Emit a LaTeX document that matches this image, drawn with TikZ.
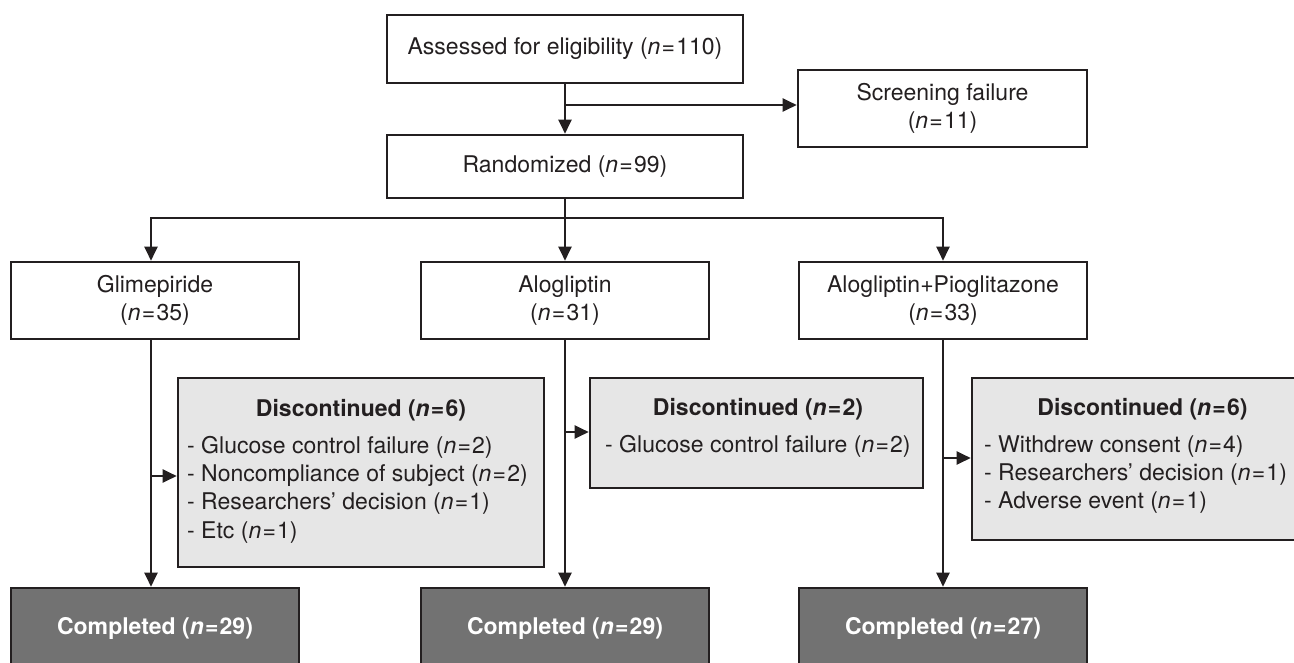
\documentclass[tikz,border=0pt]{standalone}
\usepackage{fontspec}
\setmainfont{TeX Gyre Heros}
\usetikzlibrary{arrows.meta}
\definecolor{ink}{HTML}{231F20}
\definecolor{discfill}{HTML}{E6E6E6}
\definecolor{compfill}{HTML}{727272}
\newcommand\nval[1]{(\textit{n}\kern1.2pt=\kern1.2pt#1)}
\begin{document}
\begin{tikzpicture}[x=1pt,y=-1pt,
  font=\fontsize{23}{28.3}\selectfont, text=ink,
  box/.style={draw=ink, line width=2.6pt, inner sep=0pt, align=center, fill=white},
  discbox/.style={box, fill=discfill},
  compbox/.style={box, fill=compfill, text=white, font=\fontsize{23}{28.3}\selectfont\bfseries},
  conn/.style={draw=ink, line width=2.2pt},
  arr/.style={conn, -{Triangle[length=14pt,width=13pt]}},
  ttl/.style={anchor=base, inner sep=0pt, font=\fontsize{23}{28.3}\selectfont\bfseries},
  item/.style={anchor=base west, inner sep=0pt}
]
\useasboundingbox (0,0) rectangle (1294,662);

% top
\node[box, minimum width=356pt, minimum height=68pt] (assess) at (565,49) {Assessed for eligibility \nval{110}};
\node[box, minimum width=356pt, minimum height=63pt] (rand) at (565,166.5) {Randomized \nval{99}};
\node[box, minimum width=289pt, minimum height=77pt] (screen) at (942.5,108.5) {Screening failure\\\nval{11}};

% arms
\node[box, minimum width=288pt, minimum height=77pt] (glim) at (155,300.5) {Glimepiride\\\nval{35}};
\node[box, minimum width=288pt, minimum height=77pt] (alo) at (565,300.5) {Alogliptin\\\nval{31}};
\node[box, minimum width=288pt, minimum height=77pt] (alopio) at (943,300.5) {Alogliptin+Pioglitazone\\\nval{33}};

% discontinued
\node[discbox, minimum width=366pt, minimum height=189pt] (disc1) at (361,472.5) {};
\node[discbox, minimum width=333pt, minimum height=110pt] (disc2) at (756.5,433) {};
\node[discbox, minimum width=341pt, minimum height=162pt] (disc3) at (1142.5,459) {};

\node[ttl] (t1) at (361,416) {Discontinued \nval{6}};
\node[item] (i11) at (187,453) {- Glucose control failure \nval{2}};
\node[item] (i12) at (187,481.3) {- Noncompliance of subject \nval{2}};
\node[item] (i13) at (187,509.6) {- Researchers' decision \nval{1}};
\node[item] (i14) at (187,538) {- Etc \nval{1}};

\node[ttl] (t2) at (758,415) {Discontinued \nval{2}};
\node[item] (i21) at (605,452) {- Glucose control failure \nval{2}};

\node[ttl] (t3) at (1142.5,415) {Discontinued \nval{6}};
\node[item] (i31) at (984,452) {- Withdrew consent \nval{4}};
\node[item] (i32) at (984,480.3) {- Researchers' decision \nval{1}};
\node[item] (i33) at (984,508.6) {- Adverse event \nval{1}};

% completed
\node[compbox, minimum width=288pt, minimum height=80pt] (comp1) at (155,628) {Completed \nval{29}};
\node[compbox, minimum width=288pt, minimum height=80pt] (comp2) at (565,628) {Completed \nval{29}};
\node[compbox, minimum width=288pt, minimum height=80pt] (comp3) at (943,628) {Completed \nval{27}};

% connectors
\draw[arr] (assess.south) -- (rand.north);
\coordinate (split) at (565,105);
\draw[arr] (split) -- (split -| screen.west);
\coordinate (branch) at (565,218);
\coordinate (bl) at (151,218);
\coordinate (br) at (943,218);
\draw[conn] (rand.south) -- (branch);
\draw[arr] (branch) -- (alo.north);
\draw[arr] (branch) -- (bl) -- (bl |- glim.north);
\draw[arr] (branch) -- (br) -- (br |- alopio.north);

\draw[arr] (bl |- glim.south) -- (bl |- comp1.north);
\draw[arr] (alo.south) -- (comp2.north);
\draw[arr] (alopio.south) -- (comp3.north);

\coordinate (d1) at (151,476);
\coordinate (d2) at (565,432);
\coordinate (d3) at (943,458);
\draw[arr] (d1) -- (d1 -| disc1.west);
\draw[arr] (d2) -- (d2 -| disc2.west);
\draw[arr] (d3) -- (d3 -| disc3.west);
\end{tikzpicture}
\end{document}
